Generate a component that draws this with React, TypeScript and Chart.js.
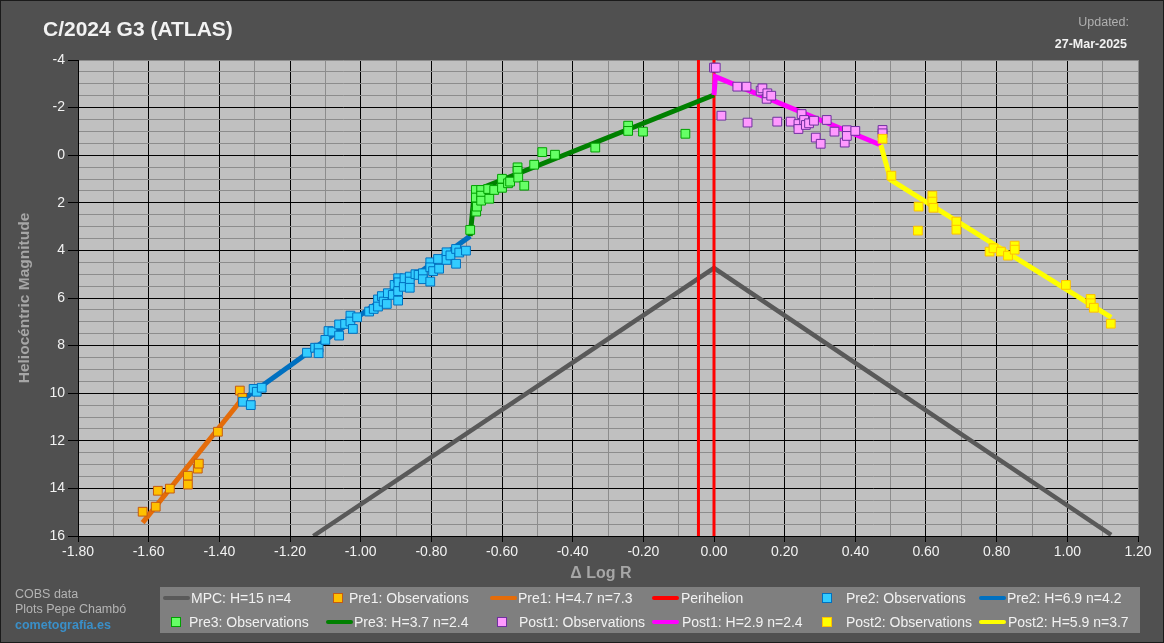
import React, { useEffect, useRef } from "react";
import { Chart, registerables } from "chart.js";

Chart.register(...registerables);

// ---------- data ----------
const xMin = -1.8;
const xMax = 1.2;
const yMin = -4;
const yMax = 16;

const pre1Obs: [number, number][] = [
  [-1.617, 14.98], [-1.58, 14.77], [-1.574, 14.1], [-1.54, 14.01], [-1.489, 13.47],
  [-1.489, 13.84], [-1.461, 13.17], [-1.458, 12.96], [-1.404, 11.62], [-1.342, 9.89],
  [-1.335, 10.2],
];

const pre2Obs: [number, number][] = [
  [-1.333, 10.36], [-1.311, 10.5], [-1.303, 9.82], [-1.294, 9.94], [-1.28, 9.77],
  [-1.152, 8.3], [-1.129, 8.09], [-1.119, 8.09], [-1.119, 8.32], [-1.1, 7.76],
  [-1.091, 7.39], [-1.08, 7.41], [-1.061, 7.58], [-1.061, 7.11], [-1.044, 7.09],
  [-1.029, 6.74], [-1.029, 6.99], [-1.022, 7.3], [-1.01, 6.81], [-0.976, 6.57],
  [-0.963, 6.46], [-0.951, 6.06], [-0.951, 6.36], [-0.94, 5.92], [-0.935, 6.15],
  [-0.926, 6.25], [-0.923, 5.8], [-0.909, 5.87], [-0.894, 6.11], [-0.904, 5.45],
  [-0.894, 5.17], [-0.893, 5.34], [-0.894, 5.71], [-0.878, 5.53], [-0.876, 5.17],
  [-0.861, 5.1], [-0.861, 5.31], [-0.861, 5.57], [-0.845, 5.0], [-0.836, 5.03],
  [-0.824, 4.96], [-0.824, 5.21], [-0.803, 5.31], [-0.803, 4.5], [-0.803, 4.71],
  [-0.795, 4.87], [-0.778, 4.77], [-0.781, 4.36], [-0.757, 4.08], [-0.757, 4.4],
  [-0.746, 4.21], [-0.73, 3.94], [-0.73, 4.56], [-0.721, 4.09], [-0.702, 4.01],
];

const pre3Obs: [number, number][] = [
  [-0.69, 3.14], [-0.673, 2.37], [-0.671, 2.16], [-0.674, 1.46], [-0.674, 1.78],
  [-0.659, 1.46], [-0.659, 1.7], [-0.659, 1.91], [-0.639, 1.42], [-0.636, 1.83],
  [-0.622, 1.46], [-0.6, 0.99], [-0.6, 1.37], [-0.583, 1.18], [-0.577, 1.11],
  [-0.556, 0.51], [-0.556, 0.66], [-0.554, 0.94], [-0.537, 1.28], [-0.509, 0.4],
  [-0.486, -0.13], [-0.45, -0.02], [-0.336, -0.32], [-0.243, -1.24], [-0.243, -1.02],
  [-0.201, -0.99], [-0.081, -0.9],
];

const post1Obs: [number, number][] = [
  [0.0, -3.68], [0.005, -3.68], [0.021, -1.66], [0.066, -2.88], [0.092, -2.88],
  [0.095, -1.37], [0.132, -2.71], [0.137, -2.81], [0.149, -2.37], [0.151, -2.6],
  [0.162, -2.5], [0.179, -1.41], [0.217, -1.41], [0.239, -1.31], [0.239, -1.1],
  [0.248, -1.73], [0.255, -1.48], [0.26, -1.27], [0.269, -1.34], [0.283, -1.45],
  [0.288, -0.74], [0.302, -0.48], [0.319, -1.48], [0.341, -0.99], [0.37, -0.53],
  [0.376, -1.05], [0.376, -0.81], [0.4, -1.02], [0.477, -1.06], [0.477, -0.92],
];

const post2Obs: [number, number][] = [
  [0.477, -0.69], [0.502, 0.86], [0.579, 2.16], [0.577, 3.17], [0.618, 1.7],
  [0.618, 1.95], [0.621, 2.21], [0.686, 2.79], [0.686, 3.13], [0.78, 4.05],
  [0.791, 3.91], [0.812, 4.05], [0.832, 4.22], [0.851, 3.8], [0.851, 3.97],
  [0.996, 5.45], [1.066, 6.04], [1.066, 6.22], [1.075, 6.41], [1.123, 7.08],
];

const mpcLine: [number, number][] = [[-1.134, 16], [0.0, 4.74], [1.124, 15.95]];
const pre1Fit: [number, number][] = [[-1.617, 15.44], [-1.342, 10.36]];
const pre2Fit: [number, number][] = [[-1.342, 10.36], [-0.69, 3.4]];
const pre3Fit: [number, number][] = [[-0.69, 3.4], [-0.678, 1.5], [0.0, -2.53]];
const post1Fit: [number, number][] = [[0.0, -2.53], [0.004, -3.3], [0.472, -0.43]];
const post2Fit: [number, number][] = [[0.472, -0.43], [0.5, 1.04], [1.124, 6.81]];
const perihelionA: [number, number][] = [[-0.044, yMin], [-0.044, yMax]];
const perihelionB: [number, number][] = [[0.0, yMin], [0.0, yMax]];

const legendRow1 = ["MPC: H=15 n=4", "Pre1: Observations", "Pre1: H=4.7 n=7.3", "Perihelion", "Pre2: Observations", "Pre2: H=6.9 n=4.2"];
const legendRow2 = ["Pre3: Observations", "Pre3: H=3.7 n=2.4", "Post1: Observations", "Post1: H=2.9 n=2.4", "Post2: Observations", "Post2: H=5.9 n=3.7"];

// ---------- styles ----------
const FONT = "'Liberation Sans', Arial, sans-serif";
const C = {
  bg: "#505050",
  plot: "#c0c0c0",
  minor: "#8c8c8c",
  major: "#000000",
  mpc: "#595959",
  pre1Line: "#e46c0a",
  pre2Line: "#0070c0",
  pre3Line: "#008000",
  post1Line: "#ff00ff",
  post2Line: "#ffff00",
  peri: "#ff0000",
  pre1Fill: "#ffc000", pre1Border: "#c55a11",
  pre2Fill: "#33ccff", pre2Border: "#0070c0",
  pre3Fill: "#66ff66", pre3Border: "#00a000",
  post1Fill: "#ff99ff", post1Border: "#7030a0",
  post2Fill: "#ffff00", post2Border: "#ffc000",
};

const toPts = (a: [number, number][]) => a.map(([x, y]) => ({ x, y }));

const lineDs = (data: [number, number][], color: string, order: number, width = 5) => ({
  type: "scatter" as const,
  data: toPts(data),
  showLine: true,
  borderColor: color,
  backgroundColor: color,
  borderWidth: width,
  pointRadius: 0,
  pointHoverRadius: 0,
  borderCapStyle: "butt" as const,
  clip: 0,
  order,
});

const obsDs = (data: [number, number][], fill: string, border: string, order: number) => ({
  type: "scatter" as const,
  data: toPts(data),
  showLine: false,
  pointStyle: "rect" as const,
  pointRadius: 6.2,
  pointBorderWidth: 1,
  pointBackgroundColor: fill,
  pointBorderColor: border,
  backgroundColor: fill,
  borderColor: border,
  order,
});

const plotBg = {
  id: "plotBg",
  beforeDraw(chart: any) {
    const { ctx, chartArea } = chart;
    ctx.save();
    ctx.fillStyle = C.plot;
    ctx.fillRect(chartArea.left, chartArea.top, chartArea.right - chartArea.left, chartArea.bottom - chartArea.top);
    ctx.restore();
  },
};

type LegendItem = { kind: "line" | "square"; color: string; border?: string; iconX: number; textX: number };
const legendLayout1: LegendItem[] = [
  { kind: "line", color: C.mpc, iconX: 163, textX: 191 },
  { kind: "square", color: C.pre1Fill, border: C.pre1Border, iconX: 333, textX: 349 },
  { kind: "line", color: C.pre1Line, iconX: 490, textX: 518 },
  { kind: "line", color: C.peri, iconX: 652, textX: 681 },
  { kind: "square", color: C.pre2Fill, border: C.pre2Border, iconX: 822, textX: 846 },
  { kind: "line", color: C.pre2Line, iconX: 979, textX: 1007 },
];
const legendLayout2: LegendItem[] = [
  { kind: "square", color: C.pre3Fill, border: C.pre3Border, iconX: 171, textX: 189 },
  { kind: "line", color: C.pre3Line, iconX: 326, textX: 354 },
  { kind: "square", color: C.post1Fill, border: C.post1Border, iconX: 497, textX: 519 },
  { kind: "line", color: C.post1Line, iconX: 652, textX: 682 },
  { kind: "square", color: C.post2Fill, border: C.post2Border, iconX: 822, textX: 846 },
  { kind: "line", color: C.post2Line, iconX: 979, textX: 1008 },
];

function LegendRow({ items, labels, y }: { items: LegendItem[]; labels: string[]; y: number }) {
  return (
    <>
      {items.map((it, i) => (
        <React.Fragment key={i}>
          {it.kind === "line" ? (
            <div style={{ position: "absolute", left: it.iconX, top: y - 2, width: 27, height: 4, background: it.color, borderRadius: 2 }} />
          ) : (
            <div style={{ position: "absolute", left: it.iconX, top: y - 5, width: 10, height: 10, boxSizing: "border-box", background: it.color, border: `1px solid ${it.border}` }} />
          )}
          <div style={{ position: "absolute", left: it.textX, top: y - 9, height: 18, lineHeight: "18px", fontFamily: FONT, fontSize: 14, color: "#f2f2f2", whiteSpace: "nowrap" }}>
            {labels[i]}
          </div>
        </React.Fragment>
      ))}
    </>
  );
}

export default function App() {
  const ref = useRef<HTMLCanvasElement | null>(null);

  useEffect(() => {
    if (!ref.current) return;
    const isMajorX = (v: number) => Math.round(v * 10) % 2 === 0;
    const isMajorY = (v: number) => Math.round(v * 2) % 4 === 0;

    const chart = new Chart(ref.current, {
      type: "scatter",
      data: {
        datasets: [
          obsDs(post2Obs, C.post2Fill, C.post2Border, 1),
          obsDs(post1Obs, C.post1Fill, C.post1Border, 2),
          obsDs(pre3Obs, C.pre3Fill, C.pre3Border, 3),
          obsDs(pre2Obs, C.pre2Fill, C.pre2Border, 4),
          obsDs(pre1Obs, C.pre1Fill, C.pre1Border, 5),
          lineDs(post2Fit, C.post2Line, 6),
          lineDs(post1Fit, C.post1Line, 7),
          lineDs(pre3Fit, C.pre3Line, 8),
          lineDs(pre2Fit, C.pre2Line, 9),
          lineDs(pre1Fit, C.pre1Line, 10),
          lineDs(perihelionA, C.peri, 11, 3),
          lineDs(perihelionB, C.peri, 11, 3),
          lineDs(mpcLine, C.mpc, 12, 4.5),
        ] as any,
      },
      options: {
        animation: false,
        responsive: false,
        events: [],
        layout: { padding: { left: 0, top: 60, right: 26, bottom: 61 } },
        plugins: { legend: { display: false }, tooltip: { enabled: false }, title: { display: false } },
        scales: {
          x: {
            type: "linear",
            min: xMin,
            max: xMax,
            afterFit: (s: any) => { s.height = 46; },
            ticks: {
              stepSize: 0.1,
              autoSkip: false,
              maxRotation: 0,
              padding: 2,
              color: "#f2f2f2",
              font: { family: FONT, size: 14 },
              callback: (value: any) => {
                const r = Math.round(Number(value) * 10);
                if (r % 2 !== 0) return "";
                return (r / 10).toFixed(2);
              },
            },
            grid: {
              color: (ctx: any) => {
                const v = ctx.tick ? ctx.tick.value : 0;
                if (Math.abs(v - xMax) < 1e-6) return C.minor;
                return isMajorX(v) ? C.major : C.minor;
              },
              tickColor: (ctx: any) => (ctx.tick && isMajorX(ctx.tick.value) ? C.major : "rgba(0,0,0,0)"),
              tickLength: 6,
              lineWidth: 1,
            },
            border: { display: true, color: "#000", width: 1 },
            title: { display: false },
          },
          y: {
            type: "linear",
            min: yMin,
            max: yMax,
            reverse: true,
            afterFit: (s: any) => { s.width = 78; },
            ticks: {
              stepSize: 0.5,
              autoSkip: false,
              padding: 3,
              color: "#f2f2f2",
              font: { family: FONT, size: 14 },
              callback: (value: any) => {
                const v = Number(value);
                return isMajorY(v) ? String(Math.round(v)) : "";
              },
            },
            grid: {
              color: (ctx: any) => {
                const v = ctx.tick ? ctx.tick.value : 0;
                if (Math.abs(v - yMin) < 1e-6) return C.minor;
                return isMajorY(v) ? C.major : C.minor;
              },
              tickColor: (ctx: any) => (ctx.tick && isMajorY(ctx.tick.value) ? C.major : "rgba(0,0,0,0)"),
              tickLength: 10,
              lineWidth: 1,
            },
            border: { display: true, color: "#000", width: 1 },
            title: {
              display: true,
              text: "Heliocéntric Magnitude",
              color: "#a6a6a6",
              font: { family: FONT, size: 15.5, weight: "bold" },
              padding: { top: 15, bottom: 0 },
            },
          },
        },
      },
      plugins: [plotBg],
    });
    return () => chart.destroy();
  }, []);

  return (
    <div
      style={{
        position: "fixed",
        left: 0,
        top: 0,
        width: 1164,
        height: 643,
        background: C.bg,
        boxShadow: "inset 0 0 0 1px #1a1a1a",
        overflow: "hidden",
        fontFamily: FONT,
      }}
    >
      <canvas ref={ref} width={1164} height={643} style={{ position: "absolute", left: 0, top: 0, width: 1164, height: 643 }} />
      <div style={{ position: "absolute", left: 43, top: 16, fontSize: 21, fontWeight: "bold", color: "#f2f2f2", lineHeight: "26px", whiteSpace: "nowrap" }}>
        C/2024 G3 (ATLAS)
      </div>
      <div style={{ position: "absolute", right: 35, top: 14, fontSize: 12.5, color: "#b0b0b0", lineHeight: "16px" }}>Updated:</div>
      <div style={{ position: "absolute", right: 37, top: 36, fontSize: 12.5, fontWeight: "bold", color: "#f2f2f2", lineHeight: "16px" }}>27-Mar-2025</div>

      <div style={{ position: "absolute", left: 501, width: 200, top: 563, textAlign: "center", fontSize: 16, fontWeight: "bold", color: "#a6a6a6", lineHeight: "20px" }}>
        Δ Log R
      </div>

      <div style={{ position: "absolute", left: 15, top: 586, fontSize: 12.5, color: "#b4b4b4", lineHeight: "16px" }}>COBS data</div>
      <div style={{ position: "absolute", left: 15, top: 601, fontSize: 12.5, color: "#b4b4b4", lineHeight: "16px" }}>Plots Pepe Chambó</div>
      <div style={{ position: "absolute", left: 15, top: 617, fontSize: 12.5, fontWeight: "bold", color: "#3a8fc8", lineHeight: "16px" }}>cometografía.es</div>

      <div style={{ position: "absolute", left: 160, top: 587, width: 980, height: 46, background: "#7f7f7f" }} />
      <LegendRow items={legendLayout1} labels={legendRow1} y={598} />
      <LegendRow items={legendLayout2} labels={legendRow2} y={622} />
    </div>
  );
}
